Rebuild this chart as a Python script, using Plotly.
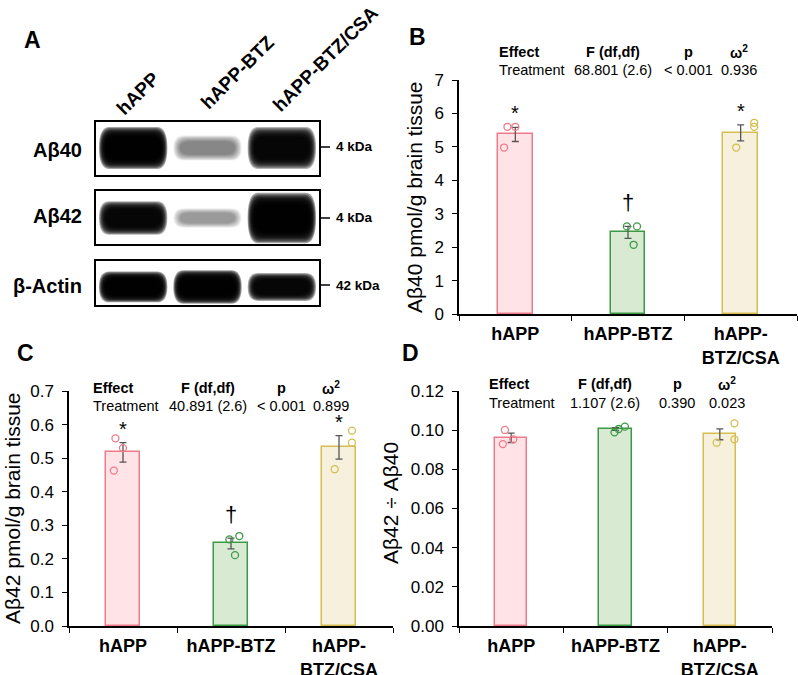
import plotly.graph_objects as go

# Groups and labels
groups = ["hAPP", "hAPP-BTZ", "hAPP-BTZ/CSA"]
tick_text = ["hAPP", "hAPP-BTZ", "hAPP-<br>BTZ/CSA"]

# Panel B: Abeta40 (pmol/g brain tissue)
ab40_mean = [5.37, 2.44, 5.42]
ab40_sem = [0.21, 0.18, 0.24]
ab40_pts = [[5.60, 5.60, 4.98], [2.62, 2.62, 2.07], [5.72, 5.60, 4.98]]
ab40_sig = ["*", "†", "*"]
ab40_stats = ["68.801 (2.6)", "< 0.001", "0.936"]

# Panel C: Abeta42 (pmol/g brain tissue)
ab42_mean = [0.517, 0.246, 0.532]
ab42_sem = [0.029, 0.016, 0.035]
ab42_pts = [[0.559, 0.530, 0.463], [0.258, 0.268, 0.211], [0.582, 0.546, 0.467]]
ab42_sig = ["*", "†", "*"]
ab42_stats = ["40.891 (2.6)", "< 0.001", "0.899"]

# Panel D: Abeta42 / Abeta40 ratio
ratio_mean = [0.0961, 0.1006, 0.0979]
ratio_sem = [0.0024, 0.0007, 0.0028]
ratio_pts = [[0.1001, 0.0929, 0.0953], [0.0989, 0.1006, 0.1018], [0.1035, 0.0953, 0.0936]]
ratio_sig = ["", "", ""]
ratio_stats = ["1.107 (2.6)", "0.390", "0.023"]

stat_head = ["<b>Effect</b>", "<b>F (df,df)</b>", "<b>p</b>", "<b>ω<sup>2</sup></b>"]

# Panel A: western blot, relative band darkness per lane
blot_rows = ["Aβ40", "Aβ42", "β-Actin"]
blot_kda = ["4 kDa", "4 kDa", "42 kDa"]
blot_intensity = [[1.0, 0.45, 0.97], [0.97, 0.38, 1.0], [1.0, 1.0, 0.97]]

# styles
borders = ["#F07A8A", "#3C9A45", "#D4BE4E"]
fills = ["#FFE3E6", "#D9EAD3", "#F6F0DC"]
FONT = "Arial, Liberation Sans, sans-serif"
W, H = 798, 675


def px(x):
    return x / W


def py(y):
    return 1 - y / H


fig = go.Figure()


def note(x, y, text, size, xanchor="center", **kw):
    # annotation placed in figure pixels (from top-left)
    fig.add_annotation(x=px(x), y=py(y), xref="paper", yref="paper", text=text,
                       xanchor=xanchor, yanchor="middle", showarrow=False,
                       font=dict(size=size, color="black", family=FONT), **kw)


def add_panel(n, means, sems, pts, offs, sig, xdom, ydom, ymax, dtick, fmt):
    xa, ya = ("x", "y") if n == 1 else (f"x{n}", f"y{n}")
    fig.add_trace(go.Bar(
        x=[0, 1, 2], y=means, width=0.31,
        marker=dict(color=fills, line=dict(color=borders, width=1.5)),
        error_y=dict(type="data", array=sems, color="#555555", thickness=1.3, width=3.5),
        xaxis=xa, yaxis=ya, showlegend=False, hoverinfo="skip"))
    xs, ys, cs = [], [], []
    for i in range(3):
        for v, o in zip(pts[i], offs[i]):
            xs.append(i + o)
            ys.append(v)
            cs.append(borders[i])
    fig.add_trace(go.Scatter(
        x=xs, y=ys, mode="markers",
        marker=dict(symbol="circle-open", size=7, color=cs, line=dict(width=1.3)),
        xaxis=xa, yaxis=ya, showlegend=False, hoverinfo="skip"))
    for i, s in enumerate(sig):
        if not s:
            continue
        fig.add_annotation(x=i, y=means[i] + sems[i], xref=xa, yref=ya, text=s, showarrow=False,
                           xanchor="center", yanchor="middle", yshift=14 if s == "*" else 24,
                           font=dict(size=20 if s == "*" else 22, color="black", family=FONT))
    key = "" if n == 1 else str(n)
    fig.update_layout(**{
        "xaxis" + key: dict(domain=xdom, anchor=ya, range=[-0.5, 2.5], tickvals=[0, 1, 2],
                            ticktext=tick_text, ticks="", ticklabelstandoff=3, automargin=False,
                            tickfont=dict(size=18, weight="bold", color="black", family=FONT),
                            showline=True, linecolor="black", linewidth=1.5,
                            showgrid=False, zeroline=False,
                            minor=dict(tickvals=[-0.5, 0.5, 1.5, 2.5], ticks="outside",
                                       ticklen=5, tickwidth=1.2, tickcolor="black")),
        "yaxis" + key: dict(domain=ydom, anchor=xa, range=[0, ymax], dtick=dtick, tickformat=fmt,
                            ticks="outside", ticklen=5, tickwidth=1.2, tickcolor="black",
                            ticklabelstandoff=5, automargin=False,
                            tickfont=dict(size=17, color="black", family=FONT),
                            showline=True, linecolor="black", linewidth=1.5,
                            showgrid=False, zeroline=False),
    })


add_panel(1, ab40_mean, ab40_sem, ab40_pts,
          [[-0.07, 0.0, -0.10], [-0.01, 0.08, 0.05], [0.12, 0.12, -0.04]], ab40_sig,
          [px(459), px(797)], [py(314), py(80)], 7, 1, "d")
add_panel(2, ab42_mean, ab42_sem, ab42_pts,
          [[-0.07, 0.0, -0.085], [-0.015, 0.077, 0.037], [0.12, 0.12, -0.04]], ab42_sig,
          [px(69), px(393)], [py(626), py(391)], 0.7, 0.1, ".1f")
add_panel(3, ratio_mean, ratio_sem, ratio_pts,
          [[-0.06, -0.08, 0.02], [-0.01, 0.03, 0.09], [0.14, 0.14, -0.03]], ratio_sig,
          [px(459), px(772)], [py(626), py(391)], 0.12, 0.02, ".2f")

# stats headers
for stats, (xe, xf, xp, xw, y1, y2) in [(ab40_stats, (497, 613, 688, 739, 52, 70)),
                                        (ab42_stats, (91, 208, 281, 331, 388, 406)),
                                        (ratio_stats, (487, 605, 677, 727, 384, 403))]:
    note(xe, y1, stat_head[0], 14.5, xanchor="left")
    note(xe, y2, "Treatment", 14.5, xanchor="left")
    for xc, head, val in zip([xf, xp, xw], stat_head[1:], stats):
        note(xc, y1, head, 14.5)
        note(xc, y2, val, 14.5)

# y-axis titles
for txt, x, y in [("Aβ40 pmol/g brain tissue", 415, 197),
                  ("Aβ42 pmol/g brain tissue", 12, 508),
                  ("Aβ42 ÷ Aβ40", 390, 503)]:
    note(x, y, txt, 21, textangle=-90)

# panel letters
for txt, x, y in [("A", 32, 40), ("B", 417, 37), ("C", 25, 353), ("D", 410, 353)]:
    note(x, y, f"<b>{txt}</b>", 23)

# western blot strips: each band is a stack of soft rounded rectangles
band_y = [0.51, 0.49, 0.41]
band_px = [[30, 18, 30], [24, 14, 36], [22, 24, 20]]
blot_box = [(122, 175), (191, 244), (261, 305)]
kda_y = [147, 218, 285]
label_y = [150, 216, 286]
n_layers = 10
for r in range(3):
    n = 4 + r
    y0, y1 = blot_box[r]
    box_h = y1 - y0
    for lane in range(3):
        inten = min(blot_intensity[r][lane], 0.99)
        alpha = 1 - (1 - inten) ** (1 / n_layers)
        for k in range(n_layers):
            f = k / (n_layers - 1)
            hw = 0.46 - 0.09 * f
            hh = band_px[r][lane] / box_h / 2 * (1.4 - 0.65 * f)
            rx = 0.14
            a, b = lane - hw, lane + hw
            c, d = band_y[r] - hh, band_y[r] + hh
            path = (f"M {a + rx},{c} L {b - rx},{c} Q {b},{c} {b},{band_y[r]} "
                    f"Q {b},{d} {b - rx},{d} L {a + rx},{d} Q {a},{d} {a},{band_y[r]} "
                    f"Q {a},{c} {a + rx},{c} Z")
            fig.add_shape(type="path", path=path, xref=f"x{n}", yref=f"y{n}",
                          fillcolor="black", opacity=alpha, line=dict(width=0), layer="below")
    box_ax = dict(showline=True, mirror=True, linecolor="black", linewidth=1.5, automargin=False,
                  ticks="", showticklabels=False, showgrid=False, zeroline=False)
    fig.update_layout(**{
        f"xaxis{n}": dict(domain=[px(96), px(319)], anchor=f"y{n}", range=[-0.5, 2.5], **box_ax),
        f"yaxis{n}": dict(domain=[py(y1), py(y0)], anchor=f"x{n}", range=[0, 1], **box_ax),
    })
    fig.add_shape(type="line", xref="paper", yref="paper", x0=px(319), x1=px(330),
                  y0=py(kda_y[r]), y1=py(kda_y[r]), line=dict(color="black", width=1.5))
    note(334, kda_y[r], f"<b>{blot_kda[r]}</b>", 13.5, xanchor="left")
    note(84, label_y[r], f"<b>{blot_rows[r]}</b>", 20, xanchor="right")

# lane labels, rotated
for txt, x, y in zip(groups, [138, 237, 326], [94, 72, 59]):
    note(x, y, f"<b>{txt}</b>", 19, textangle=-45)

fig.update_layout(width=W, height=H, margin=dict(l=0, r=0, t=0, b=0),
                  paper_bgcolor="white", plot_bgcolor="white",
                  font=dict(family=FONT, color="black"), bargap=0)
fig.write_html("out.html", config={"displayModeBar": False},
               post_script="document.body.style.margin='0';")
